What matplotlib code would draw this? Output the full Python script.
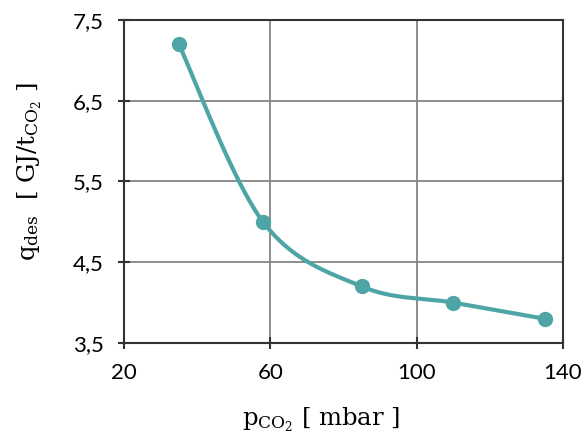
import numpy as np
import matplotlib
matplotlib.use("Agg")
import matplotlib.pyplot as plt
from matplotlib.ticker import FixedLocator, FixedFormatter

# Data
p_co2 = [35, 58, 85, 110, 135]
q_des = [7.2, 5.0, 4.2, 4.0, 3.8]
x_ticks = [20, 60, 100, 140]
x_tick_labels = ["20", "60", "100", "140"]
y_ticks = [3.5, 4.5, 5.5, 6.5, 7.5]
y_tick_labels = ["3,5", "4,5", "5,5", "6,5", "7,5"]

plt.rcParams['mathtext.fontset'] = 'dejavuserif'

color = "#4ea5a5"

def smooth(xs, ys, n=60, t=1/6):
    # Excel-like smoothed line: cubic Bezier segments with Catmull-Rom control points
    xs = np.asarray(xs, float); ys = np.asarray(ys, float)
    px, py = [], []
    N = len(xs)
    for i in range(N - 1):
        i0 = max(i - 1, 0); i3 = min(i + 2, N - 1)
        p0 = np.array([xs[i], ys[i]]); p1 = np.array([xs[i + 1], ys[i + 1]])
        c1 = p0 + t * (p1 - np.array([xs[i0], ys[i0]]))
        c2 = p1 - t * (np.array([xs[i3], ys[i3]]) - p0)
        s = np.linspace(0, 1, n)[:, None]
        b = (1 - s) ** 3 * p0 + 3 * (1 - s) ** 2 * s * c1 + 3 * (1 - s) * s ** 2 * c2 + s ** 3 * p1
        px.extend(b[:, 0]); py.extend(b[:, 1])
    return px, py

W, H = 586, 440
fig = plt.figure(figsize=(W/100, H/100), dpi=100)
ax = fig.add_axes([124/W, 1 - 343/H, (563-124)/W, (343-20)/H])

sx, sy = smooth(p_co2, q_des)
ax.plot(sx, sy, color=color, lw=3, solid_capstyle='round', zorder=3)
ax.plot(p_co2, q_des, 'o', color=color, ms=10, zorder=4)

ax.set_xlim(20, 140)
ax.set_ylim(3.5, 7.5)
ax.xaxis.set_major_locator(FixedLocator(x_ticks))
ax.xaxis.set_major_formatter(FixedFormatter(x_tick_labels))
ax.yaxis.set_major_locator(FixedLocator(y_ticks))
ax.yaxis.set_major_formatter(FixedFormatter(y_tick_labels))

ax.grid(True, color="#858585", lw=1.3, zorder=1)
for s in ax.spines.values():
    s.set_color("#333333")
    s.set_linewidth(1.5)
ax.tick_params(direction='inout', length=9, width=1.5, color="#333333",
               labelsize=16, pad=10)
for lab in ax.get_xticklabels() + ax.get_yticklabels():
    lab.set_fontfamily('Lato')

fig.text(321/W, 1 - 420/H, r'$\mathrm{p_{CO_2}}$ [ mbar ]', fontsize=17.5,
         family='DejaVu Serif', ha='center', va='center')
fig.text(30/W, 1 - 172/H, r'$\mathrm{q_{des}}$  [ GJ/$\mathrm{t_{CO_2}}$ ]', fontsize=17.5,
         family='DejaVu Serif', ha='center', va='center', rotation=90)

fig.savefig("out.png", dpi=100, facecolor="white")
